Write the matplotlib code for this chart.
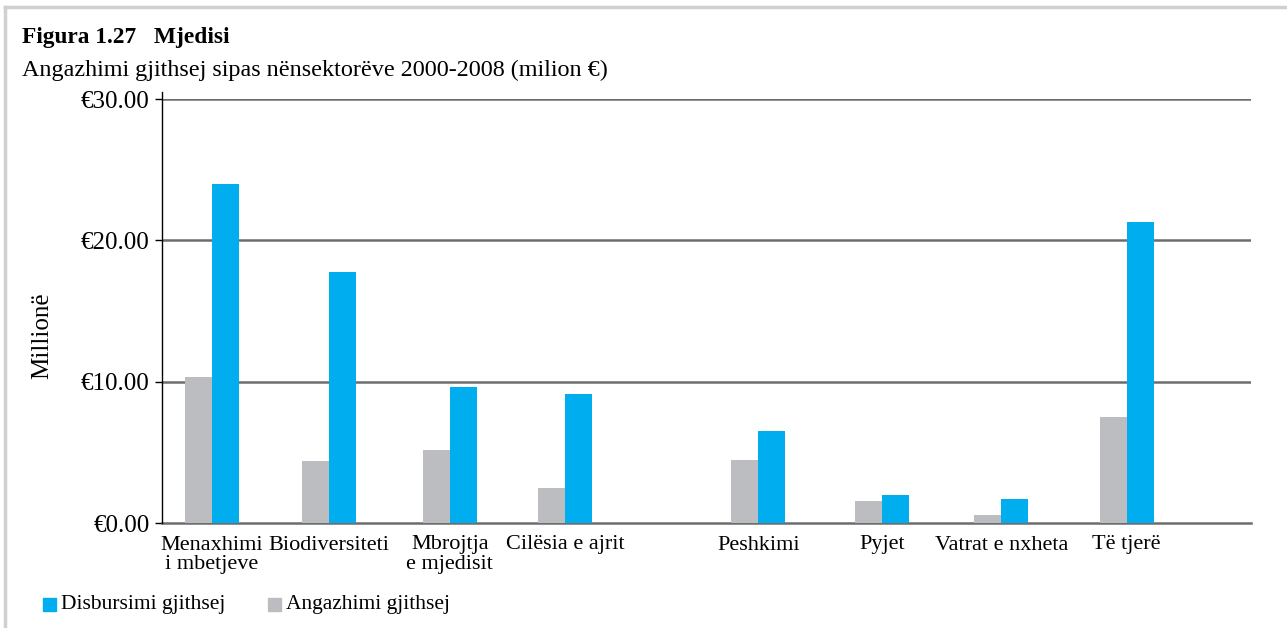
import matplotlib.pyplot as plt
from matplotlib.lines import Line2D
from matplotlib.patches import Rectangle

# data (milion €)
categories = ["Menaxhimi\ni mbetjeve", "Biodiversiteti", "Mbrojtja\ne mjedisit",
              "Cilësia e ajrit", "Peshkimi", "Pyjet", "Vatrat e nxheta", "Të tjerë"]
angazhimi = [10.3, 4.4, 5.15, 2.5, 4.45, 1.55, 0.55, 7.5]
disbursimi = [24.0, 17.75, 9.65, 9.1, 6.5, 2.0, 1.7, 21.3]
y_ticks = [0, 10, 20, 30]
y_tick_labels = ["€0.00", "€10.00", "€20.00", "€30.00"]

# layout: category slots are not evenly spaced in the original
slots = [0, 0.895, 1.82, 2.70, 4.18, 5.13, 6.04, 7.0]
bar_w = 0.207
BLUE = "#00aeef"
GRAY = "#bcbdc0"
FONT = "Liberation Serif"

plt.rcParams['font.family'] = [FONT, 'DejaVu Serif']

fig = plt.figure(figsize=(12.87, 6.28), dpi=100)
ax = fig.add_axes([162 / 1287, 1 - 523 / 628, (1251 - 162) / 1287, (523 - 99) / 628])

ax.bar([s - bar_w / 2 for s in slots], angazhimi, width=bar_w, color=GRAY, zorder=3)
ax.bar([s + bar_w / 2 for s in slots], disbursimi, width=bar_w, color=BLUE, zorder=3)

ax.set_ylim(0, 30)
ax.set_xlim(-0.383, 7.951)
ax.set_yticks(y_ticks)
ax.set_yticklabels(y_tick_labels, fontsize=18)
ax.set_xticks(slots)
ax.set_xticklabels(categories, fontsize=16, linespacing=1.0)
ax.tick_params(axis='x', length=0, pad=9)
ax.tick_params(axis='y', length=5, width=1, color='black', pad=4)

for v in y_ticks[1:]:
    ax.axhline(v, color="#6d6d6d", lw=1.8, zorder=2)

for s in ['top', 'right']:
    ax.spines[s].set_visible(False)
ax.spines['bottom'].set_color("#6d6d6d")
ax.spines['bottom'].set_linewidth(1.8)
ax.spines['left'].set_color("black")
ax.spines['left'].set_linewidth(1.0)
ax.spines['left'].set_bounds(0, 30.5)
ax.spines['left'].set_zorder(4)

fig.text(42 / 1287, 1 - 336 / 628, "Millionë", fontsize=18, rotation=90,
         va='center', ha='center')

# titles
fig.text(22 / 1287, 1 - 37 / 628, "Figura 1.27   Mjedisi", fontsize=16.8,
         fontweight='bold', va='center', ha='left')
fig.text(22 / 1287, 1 - 70 / 628, "Angazhimi gjithsej sipas nënsektorëve 2000-2008 (milion €)",
         fontsize=17.4, va='center', ha='left')

# frame lines (top and left)
fig.add_artist(Line2D([5 / 1287, 5 / 1287], [0, 1 - 7 / 628], color="#d0d0d0", lw=2.5,
                      transform=fig.transFigure))
fig.add_artist(Line2D([5 / 1287, 1], [1 - 7 / 628, 1 - 7 / 628], color="#d0d0d0", lw=2.5,
                      transform=fig.transFigure))

# legend
legend_items = [("Disbursimi gjithsej", BLUE, 43), ("Angazhimi gjithsej", GRAY, 268)]
for label, col, px in legend_items:
    fig.add_artist(Rectangle((px / 1287, 1 - 611 / 628), 13 / 1287, 13 / 628,
                             color=col, transform=fig.transFigure))
    fig.text((px + 18) / 1287, 1 - 605 / 628, label, fontsize=15.5, va='center', ha='left')

fig.savefig("out.png", dpi=100)
